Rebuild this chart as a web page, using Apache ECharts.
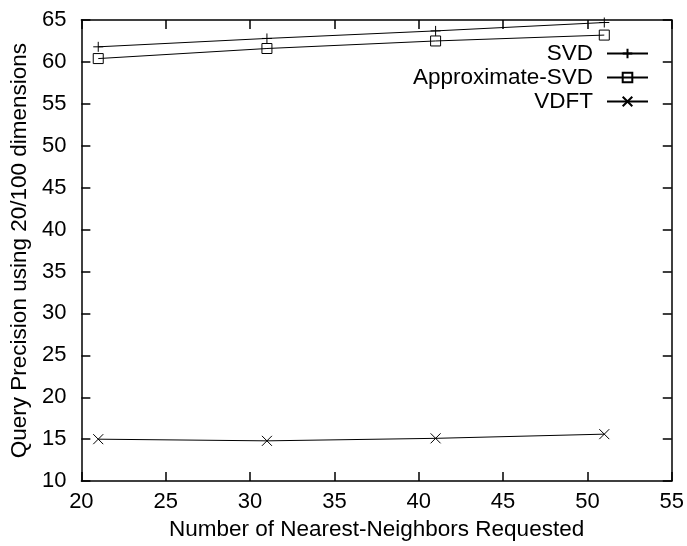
<!DOCTYPE html>
<html>
<head>
<meta charset="utf-8">
<script src="https://cdn.jsdelivr.net/npm/echarts@6/dist/echarts.min.js"></script>
<style>
    html, body { margin: 0; padding: 0; background: #fff; }
    #chart { width: 687px; height: 546px; }
</style>
</head>
<body>
<div id="chart"></div>
<script>
// data
var neighbors = [21, 31, 41, 51];
var svd = [61.8, 62.8, 63.7, 64.7];
var approxSvd = [60.4, 61.6, 62.5, 63.2];
var vdft = [15.0, 14.8, 15.1, 15.6];
var seriesNames = ['SVD', 'Approximate-SVD', 'VDFT'];

var FONT = 'Liberation Sans';
var PLUS = 'path://M5,0L5,10M0,5L10,5';
var CROSS = 'path://M0,0L10,10M0,10L10,0';

function pairs(ys) {
    var out = [];
    for (var i = 0; i < neighbors.length; i++) {
        out.push([neighbors[i], ys[i]]);
    }
    return out;
}

function lineSeries(name, ys, symbol) {
    return {
        name: name,
        type: 'line',
        xAxisIndex: 0,
        yAxisIndex: 0,
        data: pairs(ys),
        symbol: symbol,
        symbolSize: 10,
        showAllSymbol: true,
        lineStyle: { color: '#000', width: 1 },
        itemStyle: { color: 'none', borderColor: '#000', borderWidth: 1 },
        emphasis: { disabled: true },
        animation: false
    };
}

var dom = document.getElementById('chart');
var myChart = echarts.init(dom);

// axis look shared by all four sides (ticks point inward)
var axisLine = { show: true, lineStyle: { color: '#000', width: 1.5 } };
var axisTick = { show: true, inside: true, length: 9, lineStyle: { color: '#000', width: 1.5 } };

var option = {
    backgroundColor: '#fff',
    animation: false,
    grid: { left: 81, right: 14, top: 20, bottom: 59, containLabel: false },
    legend: {
        data: seriesNames,
        orient: 'vertical',
        right: 33,
        top: 37,
        align: 'right',
        itemWidth: 41,
        itemHeight: 12,
        itemGap: 1,
        selectedMode: false,
        textStyle: { fontFamily: FONT, fontSize: 22.5, color: '#000', lineHeight: 22.5, padding: [0, 9, 0, 0] }
    },
    xAxis: [
        {
            type: 'value', min: 20, max: 55, interval: 5,
            name: 'Number of Nearest-Neighbors Requested',
            nameLocation: 'middle', nameGap: 30,
            nameTextStyle: { fontFamily: FONT, fontSize: 22.5, color: '#000' },
            axisLine: axisLine, axisTick: axisTick,
            axisLabel: { fontFamily: FONT, fontSize: 22, color: '#000', margin: 10 },
            splitLine: { show: false }
        },
        {
            type: 'value', position: 'top', min: 20, max: 55, interval: 5,
            axisLine: axisLine, axisTick: axisTick,
            axisLabel: { show: false }, splitLine: { show: false }
        }
    ],
    yAxis: [
        {
            type: 'value', min: 10, max: 65, interval: 5,
            name: 'Query Precision using 20/100 dimensions',
            nameLocation: 'middle', nameGap: 50,
            nameTextStyle: { fontFamily: FONT, fontSize: 22.5, color: '#000' },
            axisLine: axisLine, axisTick: axisTick,
            axisLabel: { fontFamily: FONT, fontSize: 22, color: '#000', margin: 15 },
            splitLine: { show: false }
        },
        {
            type: 'value', position: 'right', min: 10, max: 65, interval: 5,
            axisLine: axisLine, axisTick: axisTick,
            axisLabel: { show: false }, splitLine: { show: false }
        }
    ],
    series: [
        lineSeries(seriesNames[0], svd, PLUS),
        lineSeries(seriesNames[1], approxSvd, 'rect'),
        lineSeries(seriesNames[2], vdft, CROSS)
    ]
};

if (option && typeof option === "object") {
    myChart.setOption(option, true);
}
window.onresize = function(){
    myChart.resize();
};
</script>
</body>
</html>
